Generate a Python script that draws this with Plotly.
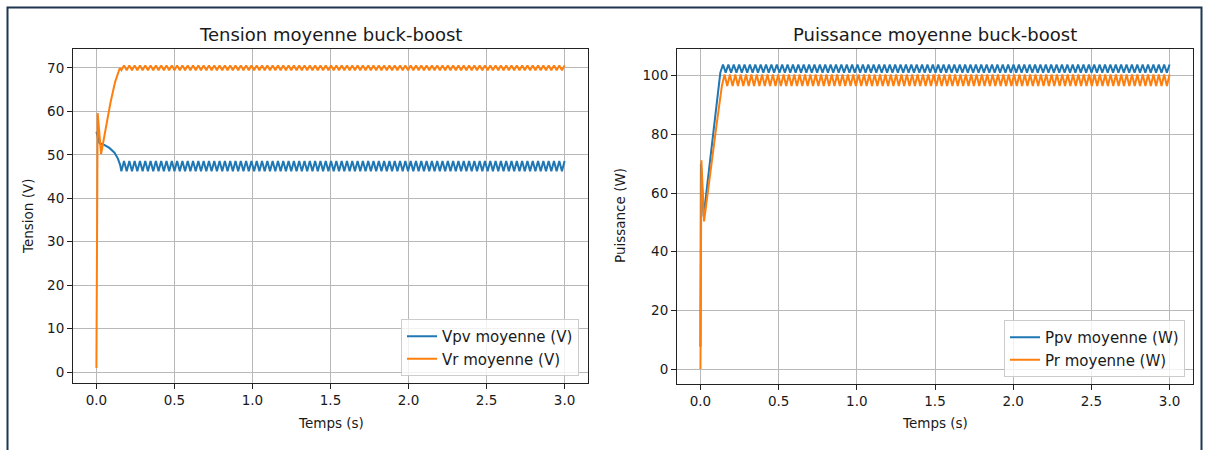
import numpy as np
import plotly.graph_objects as go

W, H = 1206, 450

# ---------------------------------------------------------------
# Régime transitoire (t en s)
# ---------------------------------------------------------------
t_vpv_tr = [0.0, 0.02, 0.05, 0.083, 0.116, 0.137, 0.152]
vpv_tr = [55.3, 52.7, 52.3, 51.6, 50.5, 49.2, 47.7]

t_vr_tr = [0.0, 0.008, 0.03, 0.06, 0.09, 0.12, 0.15]
vr_tr = [0.9, 59.6, 50.2, 56.5, 62.0, 66.8, 70.0]

t_ppv_tr = [0.0, 0.003, 0.02, 0.06, 0.1]
ppv_tr = [7.6, 70.0, 52.0, 70.0, 87.0]

t_pr_tr = [0.0, 0.006, 0.023, 0.06, 0.1]
pr_tr = [0.0, 71.2, 50.3, 66.0, 82.0]

# ---------------------------------------------------------------
# Régime établi : creux et crêtes successifs de l'ondulation (84 périodes)
# ---------------------------------------------------------------
vpv_creux = [
    46.2, 46.2, 46.2, 46.2, 46.2, 46.2, 46.2, 46.2, 46.2, 46.2, 46.2, 46.2,
    46.2, 46.2, 46.2, 46.2, 46.2, 46.2, 46.2, 46.2, 46.2, 46.2, 46.2, 46.2,
    46.2, 46.2, 46.2, 46.2, 46.2, 46.2, 46.2, 46.2, 46.2, 46.2, 46.2, 46.2,
    46.2, 46.2, 46.2, 46.2, 46.2, 46.2, 46.2, 46.2, 46.2, 46.2, 46.2, 46.2,
    46.2, 46.2, 46.2, 46.2, 46.2, 46.2, 46.2, 46.2, 46.2, 46.2, 46.2, 46.2,
    46.2, 46.2, 46.2, 46.2, 46.2, 46.2, 46.2, 46.2, 46.2, 46.2, 46.2, 46.2,
    46.2, 46.2, 46.2, 46.2, 46.2, 46.2, 46.2, 46.2, 46.2, 46.2, 46.2, 46.2,
]
vpv_cretes = [
    48.6, 48.6, 48.6, 48.6, 48.6, 48.6, 48.6, 48.6, 48.6, 48.6, 48.6, 48.6,
    48.6, 48.6, 48.6, 48.6, 48.6, 48.6, 48.6, 48.6, 48.6, 48.6, 48.6, 48.6,
    48.6, 48.6, 48.6, 48.6, 48.6, 48.6, 48.6, 48.6, 48.6, 48.6, 48.6, 48.6,
    48.6, 48.6, 48.6, 48.6, 48.6, 48.6, 48.6, 48.6, 48.6, 48.6, 48.6, 48.6,
    48.6, 48.6, 48.6, 48.6, 48.6, 48.6, 48.6, 48.6, 48.6, 48.6, 48.6, 48.6,
    48.6, 48.6, 48.6, 48.6, 48.6, 48.6, 48.6, 48.6, 48.6, 48.6, 48.6, 48.6,
    48.6, 48.6, 48.6, 48.6, 48.6, 48.6, 48.6, 48.6, 48.6, 48.6, 48.6, 48.6,
]
vr_creux = [
    69.5, 69.5, 69.5, 69.5, 69.5, 69.5, 69.5, 69.5, 69.5, 69.5, 69.5, 69.5,
    69.5, 69.5, 69.5, 69.5, 69.5, 69.5, 69.5, 69.5, 69.5, 69.5, 69.5, 69.5,
    69.5, 69.5, 69.5, 69.5, 69.5, 69.5, 69.5, 69.5, 69.5, 69.5, 69.5, 69.5,
    69.5, 69.5, 69.5, 69.5, 69.5, 69.5, 69.5, 69.5, 69.5, 69.5, 69.5, 69.5,
    69.5, 69.5, 69.5, 69.5, 69.5, 69.5, 69.5, 69.5, 69.5, 69.5, 69.5, 69.5,
    69.5, 69.5, 69.5, 69.5, 69.5, 69.5, 69.5, 69.5, 69.5, 69.5, 69.5, 69.5,
    69.5, 69.5, 69.5, 69.5, 69.5, 69.5, 69.5, 69.5, 69.5, 69.5, 69.5, 69.5,
]
vr_cretes = [
    70.6, 70.6, 70.6, 70.6, 70.6, 70.6, 70.6, 70.6, 70.6, 70.6, 70.6, 70.6,
    70.6, 70.6, 70.6, 70.6, 70.6, 70.6, 70.6, 70.6, 70.6, 70.6, 70.6, 70.6,
    70.6, 70.6, 70.6, 70.6, 70.6, 70.6, 70.6, 70.6, 70.6, 70.6, 70.6, 70.6,
    70.6, 70.6, 70.6, 70.6, 70.6, 70.6, 70.6, 70.6, 70.6, 70.6, 70.6, 70.6,
    70.6, 70.6, 70.6, 70.6, 70.6, 70.6, 70.6, 70.6, 70.6, 70.6, 70.6, 70.6,
    70.6, 70.6, 70.6, 70.6, 70.6, 70.6, 70.6, 70.6, 70.6, 70.6, 70.6, 70.6,
    70.6, 70.6, 70.6, 70.6, 70.6, 70.6, 70.6, 70.6, 70.6, 70.6, 70.6, 70.6,
]
ppv_creux = [
    101.0, 101.0, 101.0, 101.0, 101.0, 101.0, 101.0, 101.0, 101.0, 101.0, 101.0, 101.0,
    101.0, 101.0, 101.0, 101.0, 101.0, 101.0, 101.0, 101.0, 101.0, 101.0, 101.0, 101.0,
    101.0, 101.0, 101.0, 101.0, 101.0, 101.0, 101.0, 101.0, 101.0, 101.0, 101.0, 101.0,
    101.0, 101.0, 101.0, 101.0, 101.0, 101.0, 101.0, 101.0, 101.0, 101.0, 101.0, 101.0,
    101.0, 101.0, 101.0, 101.0, 101.0, 101.0, 101.0, 101.0, 101.0, 101.0, 101.0, 101.0,
    101.0, 101.0, 101.0, 101.0, 101.0, 101.0, 101.0, 101.0, 101.0, 101.0, 101.0, 101.0,
    101.0, 101.0, 101.0, 101.0, 101.0, 101.0, 101.0, 101.0, 101.0, 101.0, 101.0, 101.0,
]
ppv_cretes = [
    103.8, 103.8, 103.8, 103.8, 103.8, 103.8, 103.8, 103.8, 103.8, 103.8, 103.8, 103.8,
    103.8, 103.8, 103.8, 103.8, 103.8, 103.8, 103.8, 103.8, 103.8, 103.8, 103.8, 103.8,
    103.8, 103.8, 103.8, 103.8, 103.8, 103.8, 103.8, 103.8, 103.8, 103.8, 103.8, 103.8,
    103.8, 103.8, 103.8, 103.8, 103.8, 103.8, 103.8, 103.8, 103.8, 103.8, 103.8, 103.8,
    103.8, 103.8, 103.8, 103.8, 103.8, 103.8, 103.8, 103.8, 103.8, 103.8, 103.8, 103.8,
    103.8, 103.8, 103.8, 103.8, 103.8, 103.8, 103.8, 103.8, 103.8, 103.8, 103.8, 103.8,
    103.8, 103.8, 103.8, 103.8, 103.8, 103.8, 103.8, 103.8, 103.8, 103.8, 103.8, 103.8,
]
pr_creux = [
    96.5, 96.5, 96.5, 96.5, 96.5, 96.5, 96.5, 96.5, 96.5, 96.5, 96.5, 96.5,
    96.5, 96.5, 96.5, 96.5, 96.5, 96.5, 96.5, 96.5, 96.5, 96.5, 96.5, 96.5,
    96.5, 96.5, 96.5, 96.5, 96.5, 96.5, 96.5, 96.5, 96.5, 96.5, 96.5, 96.5,
    96.5, 96.5, 96.5, 96.5, 96.5, 96.5, 96.5, 96.5, 96.5, 96.5, 96.5, 96.5,
    96.5, 96.5, 96.5, 96.5, 96.5, 96.5, 96.5, 96.5, 96.5, 96.5, 96.5, 96.5,
    96.5, 96.5, 96.5, 96.5, 96.5, 96.5, 96.5, 96.5, 96.5, 96.5, 96.5, 96.5,
    96.5, 96.5, 96.5, 96.5, 96.5, 96.5, 96.5, 96.5, 96.5, 96.5, 96.5, 96.5,
]
pr_cretes = [
    100.4, 100.4, 100.4, 100.4, 100.4, 100.4, 100.4, 100.4, 100.4, 100.4, 100.4, 100.4,
    100.4, 100.4, 100.4, 100.4, 100.4, 100.4, 100.4, 100.4, 100.4, 100.4, 100.4, 100.4,
    100.4, 100.4, 100.4, 100.4, 100.4, 100.4, 100.4, 100.4, 100.4, 100.4, 100.4, 100.4,
    100.4, 100.4, 100.4, 100.4, 100.4, 100.4, 100.4, 100.4, 100.4, 100.4, 100.4, 100.4,
    100.4, 100.4, 100.4, 100.4, 100.4, 100.4, 100.4, 100.4, 100.4, 100.4, 100.4, 100.4,
    100.4, 100.4, 100.4, 100.4, 100.4, 100.4, 100.4, 100.4, 100.4, 100.4, 100.4, 100.4,
    100.4, 100.4, 100.4, 100.4, 100.4, 100.4, 100.4, 100.4, 100.4, 100.4, 100.4, 100.4,
]

# instants de début du régime établi
t0_vpv, t0_vr, t0_ppv, t0_pr = 0.16, 0.16, 0.127, 0.137
t_fin = 3.0

x_ticks = [0.0, 0.5, 1.0, 1.5, 2.0, 2.5, 3.0]
x_ticktext = ["0.0", "0.5", "1.0", "1.5", "2.0", "2.5", "3.0"]
y1_ticks = [0, 10, 20, 30, 40, 50, 60, 70]
y2_ticks = [0, 20, 40, 60, 80, 100]


def alterner(creux, cretes):
    return [v for paire in zip(creux, cretes) for v in paire]


def signal(t_tr, v_tr, t0, creux, cretes):
    v_ss = alterner(creux, cretes)
    t_ss = np.linspace(t0, t_fin, len(v_ss))
    return list(t_tr) + list(t_ss), list(v_tr) + v_ss


BLEU, ORANGE = "#1f77b4", "#ff7f0e"
FONT = "DejaVu Sans"
TXT = "#1a1a1a"
F_TICK, F_LABEL, F_LEG, F_TITLE = 13.5, 13.5, 15, 18

fig = go.Figure()

for (t_tr, v_tr, t0, cx, ct, nom, coul, xa, ya, leg) in [
    (t_vpv_tr, vpv_tr, t0_vpv, vpv_creux, vpv_cretes, "Vpv moyenne (V)", BLEU, "x", "y", "legend"),
    (t_vr_tr, vr_tr, t0_vr, vr_creux, vr_cretes, "Vr moyenne (V)", ORANGE, "x", "y", "legend"),
    (t_ppv_tr, ppv_tr, t0_ppv, ppv_creux, ppv_cretes, "Ppv moyenne (W)", BLEU, "x2", "y2", "legend2"),
    (t_pr_tr, pr_tr, t0_pr, pr_creux, pr_cretes, "Pr moyenne (W)", ORANGE, "x2", "y2", "legend2"),
]:
    t, v = signal(t_tr, v_tr, t0, cx, ct)
    fig.add_trace(go.Scatter(
        x=t, y=v, mode="lines", name=nom,
        line=dict(color=coul, width=2),
        xaxis=xa, yaxis=ya, legend=leg,
    ))

axe_commun = dict(
    showline=True, linecolor="#222", linewidth=1, mirror=True,
    showgrid=True, gridcolor="#b8b8b8", gridwidth=1,
    ticks="outside", ticklen=5, tickwidth=1, tickcolor="#222",
    zeroline=False, automargin=False,
    tickfont=dict(family=FONT, size=F_TICK, color=TXT),
)

legende = dict(xanchor="right", yanchor="bottom",
               bgcolor="rgba(255,255,255,0.8)", bordercolor="#cccccc", borderwidth=1,
               font=dict(family=FONT, size=F_LEG, color=TXT), tracegroupgap=0)

fig.update_layout(
    width=W, height=H,
    margin=dict(l=0, r=0, t=0, b=0),
    paper_bgcolor="white", plot_bgcolor="white",
    font=dict(family=FONT, color=TXT),
    xaxis=dict(domain=[73 / W, 588 / W], range=[-0.15, 3.15],
               tickvals=x_ticks, ticktext=x_ticktext, anchor="y", **axe_commun),
    yaxis=dict(domain=[1 - 383 / H, 1 - 49 / H], range=[-2.53, 74.37],
               tickvals=y1_ticks, anchor="x", **axe_commun),
    xaxis2=dict(domain=[677 / W, 1193 / W], range=[-0.15, 3.15],
                tickvals=x_ticks, ticktext=x_ticktext, anchor="y2", **axe_commun),
    yaxis2=dict(domain=[1 - 384 / H, 1 - 49 / H], range=[-5.11, 109.1],
                tickvals=y2_ticks, anchor="x2", **axe_commun),
    legend=dict(x=579 / W, y=1 - 376 / H, **legende),
    legend2=dict(x=1185 / W, y=1 - 377 / H, **legende),
    showlegend=True,
)

annotations = [
    dict(text="Tension moyenne buck-boost", x=(73 + 588) / 2 / W, y=1 - 35 / H,
         font=dict(size=F_TITLE)),
    dict(text="Puissance moyenne buck-boost", x=(677 + 1193) / 2 / W, y=1 - 35 / H,
         font=dict(size=F_TITLE)),
    dict(text="Temps (s)", x=(73 + 588) / 2 / W, y=1 - 423 / H, font=dict(size=F_LABEL)),
    dict(text="Temps (s)", x=(677 + 1193) / 2 / W, y=1 - 423 / H, font=dict(size=F_LABEL)),
    dict(text="Tension (V)", x=28 / W, y=1 - 216 / H, textangle=-90, font=dict(size=F_LABEL)),
    dict(text="Puissance (W)", x=620 / W, y=1 - 216 / H, textangle=-90, font=dict(size=F_LABEL)),
]
for a in annotations:
    a.update(xref="paper", yref="paper", showarrow=False,
             xanchor="center", yanchor="middle")
    a["font"].update(family=FONT, color=TXT)
fig.update_layout(annotations=annotations)

# cadre extérieur
fig.add_shape(type="rect", xref="paper", yref="paper",
              x0=7.5 / W, x1=1201.5 / W, y0=-0.1, y1=1 - 7.5 / H,
              line=dict(color="#1f3550", width=2), fillcolor="rgba(0,0,0,0)")

fig.write_html("out.html")
